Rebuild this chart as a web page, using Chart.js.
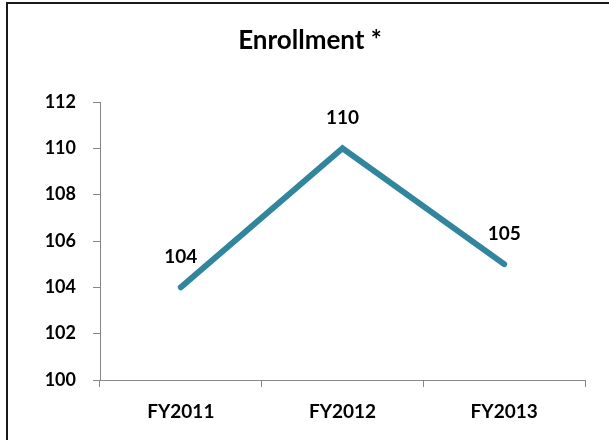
<!DOCTYPE html>
<html>
<head>
<meta charset="utf-8">
<script src="https://cdn.jsdelivr.net/npm/chart.js@4/dist/chart.umd.min.js"></script>
<style>
  html, body { margin: 0; padding: 0; background: #fff; overflow: hidden; }
  #wrap { width: 609px; height: 440px; position: relative; }
  canvas { display: block; }
</style>
</head>
<body>
<div id="wrap"><canvas id="enrollChart" width="609" height="440"></canvas></div>
<script>
const chartTitle = 'Enrollment *';
const years = ['FY2011', 'FY2012', 'FY2013'];
const enrollment = [104, 110, 105];
const yTicks = [100, 102, 104, 106, 108, 110, 112];

const axisGray = '#868686';
const lineTeal = '#31859c';
const fontFamily = 'Lato, "Open Sans", sans-serif';

// white page, left/top frame edges and the title
const framePlugin = {
  id: 'frame',
  beforeDraw: (chart) => {
    const { ctx } = chart;
    ctx.save();
    ctx.fillStyle = '#fff';
    ctx.fillRect(0, 0, chart.width, chart.height);
    ctx.strokeStyle = '#1a1a1a';
    ctx.lineWidth = 2;
    ctx.beginPath();
    ctx.moveTo(7, chart.height);
    ctx.lineTo(7, 3);
    ctx.lineTo(chart.width, 3);
    ctx.stroke();
    ctx.font = 'bold 26px ' + fontFamily;
    ctx.fillStyle = '#000';
    ctx.textAlign = 'center';
    ctx.textBaseline = 'alphabetic';
    ctx.fillText(chartTitle, 310, 49);
    ctx.restore();
  }
};

// value labels above each point
const valueLabels = {
  id: 'valueLabels',
  afterDatasetsDraw: (chart) => {
    const { ctx } = chart;
    const meta = chart.getDatasetMeta(0);
    ctx.save();
    ctx.font = 'bold 19px ' + fontFamily;
    ctx.fillStyle = '#000';
    ctx.textAlign = 'center';
    ctx.textBaseline = 'middle';
    meta.data.forEach((pt, i) => {
      ctx.fillText(String(enrollment[i]), pt.x, pt.y - 30);
    });
    ctx.restore();
  }
};

new Chart(document.querySelector('#enrollChart'), {
  type: 'line',
  data: {
    labels: years,
    datasets: [{
      label: 'Enrollment',
      data: enrollment,
      borderColor: lineTeal,
      borderWidth: 6,
      borderCapStyle: 'round',
      borderJoinStyle: 'miter',
      pointRadius: 0,
      tension: 0
    }]
  },
  options: {
    responsive: false,
    animation: false,
    layout: { padding: { left: 0, right: 24, top: 102, bottom: 0 } },
    plugins: {
      legend: { display: false },
      tooltip: { enabled: false },
      title: { display: false }
    },
    scales: {
      x: {
        offset: true,
        afterFit: (scale) => { scale.height = 60; },
        grid: {
          offset: true,
          drawOnChartArea: false,
          drawTicks: true,
          tickLength: 7,
          color: axisGray
        },
        border: { color: axisGray, width: 1 },
        ticks: {
          color: '#000',
          padding: 13,
          font: { family: fontFamily, size: 19, weight: 'bold' }
        }
      },
      y: {
        min: yTicks[0],
        max: yTicks[yTicks.length - 1],
        afterFit: (scale) => { scale.width = 100; },
        afterBuildTicks: (scale) => { scale.ticks = yTicks.map((v) => ({ value: v })); },
        grid: {
          drawOnChartArea: false,
          drawTicks: true,
          tickLength: 7,
          color: axisGray
        },
        border: { color: axisGray, width: 1 },
        ticks: {
          color: '#000',
          padding: 17,
          font: { family: fontFamily, size: 18, weight: 'bold' }
        }
      }
    }
  },
  plugins: [framePlugin, valueLabels]
});
</script>
</body>
</html>
